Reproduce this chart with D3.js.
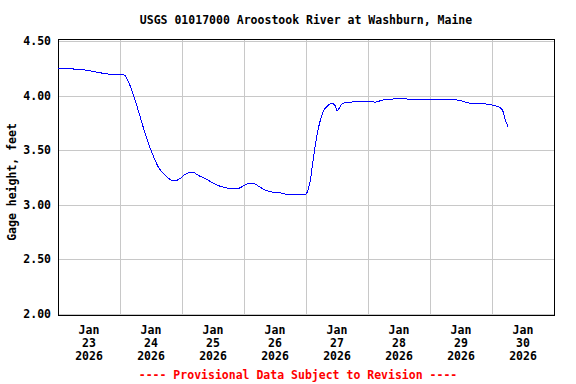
<!DOCTYPE html>
<html>
<head>
<meta charset="utf-8">
<script src="https://cdn.jsdelivr.net/npm/d3@7"></script>
<style>
  body { margin: 0; background: #fff; }
  text { font-family: "DejaVu Sans Mono", monospace; font-weight: bold; font-size: 11.5px; }
</style>
</head>
<body>
<div id="chart"></div>
<script>
// gage height readings
const times = ["2026-01-23T00:00","2026-01-23T10:30","2026-01-23T16:00","2026-01-23T23:00","2026-01-24T01:30",
  "2026-01-24T03:00","2026-01-24T05:00","2026-01-24T07:00","2026-01-24T09:00","2026-01-24T11:30","2026-01-24T13:00",
  "2026-01-24T14:45","2026-01-24T17:30","2026-01-24T19:30","2026-01-24T21:15","2026-01-24T23:15","2026-01-25T01:15",
  "2026-01-25T04:00","2026-01-25T06:15","2026-01-25T09:00","2026-01-25T12:00","2026-01-25T14:45","2026-01-25T18:30",
  "2026-01-25T21:45","2026-01-25T23:30","2026-01-26T02:15","2026-01-26T04:15","2026-01-26T07:00","2026-01-26T10:00",
  "2026-01-26T14:00","2026-01-26T18:00","2026-01-26T23:30","2026-01-27T01:30","2026-01-27T02:45","2026-01-27T04:15",
  "2026-01-27T05:30","2026-01-27T06:30","2026-01-27T08:30","2026-01-27T10:00","2026-01-27T11:15","2026-01-27T12:00",
  "2026-01-27T13:15","2026-01-27T14:15","2026-01-27T17:00","2026-01-27T21:45","2026-01-28T01:30","2026-01-28T02:45",
  "2026-01-28T05:45","2026-01-28T10:30","2026-01-28T13:30","2026-01-28T17:30","2026-01-29T10:30","2026-01-29T15:30",
  "2026-01-29T23:15","2026-01-30T00:30","2026-01-30T02:15","2026-01-30T04:00","2026-01-30T05:00","2026-01-30T06:15"];
const heights = [4.25,4.234,4.21,4.19,4.19,
  4.14,4.02,3.87,3.71,3.53,3.44,
  3.35,3.27,3.23,3.22,3.24,3.28,
  3.30,3.27,3.24,3.20,3.17,3.15,
  3.15,3.17,3.20,3.19,3.15,3.12,
  3.11,3.09,3.09,3.20,3.41,3.64,
  3.77,3.845,3.91,3.93,3.91,3.86,
  3.90,3.93,3.94,3.945,3.95,3.94,
  3.96,3.97,3.975,3.96,3.96,3.93,
  3.92,3.91,3.90,3.87,3.79,3.71];
const yTicks = [2.0, 2.5, 3.0, 3.5, 4.0, 4.5];
const dayLabels = ["23","24","25","26","27","28","29","30"];

const parse = d3.timeParse("%Y-%m-%dT%H:%M");
const data = times.map((t, i) => ({ date: parse(t), value: heights[i] }));

const svg = d3.select("#chart").append("svg").attr("width", 576).attr("height", 384);

const x = d3.scaleTime().domain([parse("2026-01-23T00:00"), parse("2026-01-31T00:00")]).range([58, 554]);
const y = d3.scaleLinear().domain([2, 4.5]).range([314, 41]);

// grid lines
svg.append("g").selectAll("line").data(yTicks).enter().append("line")
  .attr("x1", 58).attr("x2", 554)
  .attr("y1", d => Math.round(y(d)) + 0.5).attr("y2", d => Math.round(y(d)) + 0.5)
  .attr("stroke", "#c8c8c8");
const midnights = d3.timeDay.range(parse("2026-01-24T00:00"), parse("2026-01-31T00:00"));
svg.append("g").selectAll("line").data(midnights).enter().append("line")
  .attr("x1", d => Math.round(x(d)) + 0.5).attr("x2", d => Math.round(x(d)) + 0.5)
  .attr("y1", 40).attr("y2", 315)
  .attr("stroke", "#c8c8c8");

// frame
svg.append("rect").attr("x", 58.5).attr("y", 39.5).attr("width", 496).attr("height", 276)
  .attr("fill", "none").attr("stroke", "#000");

// y tick labels
svg.append("g").selectAll("text").data(yTicks).enter().append("text")
  .attr("x", 51).attr("y", d => y(d) + 4).attr("text-anchor", "end")
  .text(d => d.toFixed(2));

// x tick labels at noon of each day
const xl = svg.append("g").selectAll("text").data(dayLabels).enter().append("text")
  .attr("text-anchor", "middle")
  .attr("transform", d => "translate(" + x(parse("2026-01-" + d + "T12:00")) + ",0)");
xl.append("tspan").attr("x", 0).attr("y", 334).text("Jan");
xl.append("tspan").attr("x", 0).attr("y", 347).text(d => d);
xl.append("tspan").attr("x", 0).attr("y", 360).text("2026");

// the series, drawn aliased like the original gif
const line = d3.line().x(d => x(d.date)).y(d => y(d.value)).curve(d3.curveMonotoneX);
svg.append("path").datum(data).attr("d", line)
  .attr("fill", "none").attr("stroke", "#0000ff").attr("stroke-width", 1)
  .attr("shape-rendering", "crispEdges");

// titles
svg.append("text").attr("x", 306).attr("y", 24).attr("text-anchor", "middle")
  .text("USGS 01017000 Aroostook River at Washburn, Maine");
svg.append("text").attr("transform", "translate(16,182) rotate(-90)").attr("text-anchor", "middle")
  .text("Gage height, feet");
svg.append("text").attr("x", 298).attr("y", 379).attr("text-anchor", "middle").attr("fill", "#ff0000")
  .text("---- Provisional Data Subject to Revision ----");
</script>
</body>
</html>
